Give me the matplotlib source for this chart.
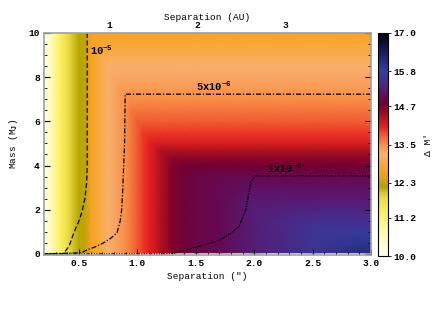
import matplotlib
matplotlib.use("Agg")
import matplotlib.pyplot as plt
import numpy as np
from matplotlib.colors import LinearSegmentedColormap, Normalize
from matplotlib.ticker import MultipleLocator

# detection limit (Delta M') along separation, arcsec
sep = [0.20, 0.25, 0.30, 0.35, 0.40, 0.45, 0.50, 0.55, 0.60, 0.65, 0.70,
       0.75, 0.80, 0.85, 0.90, 0.95, 1.00, 1.05, 1.10, 1.15, 1.20, 1.25,
       1.30, 1.40, 1.50, 1.70, 2.00, 2.50, 3.00]
limit = [10.05, 10.5, 11.0, 11.4, 11.75, 12.0, 12.15, 12.25, 12.65, 12.8, 13.0,
         13.15, 13.3, 13.4, 13.5, 13.65, 13.8, 13.95, 14.05, 14.2, 14.35, 14.5,
         14.65, 14.8, 14.9, 15.0, 15.25, 15.6, 16.1]

# planet contrast (Delta M') along mass, M_J
mass = [0.05, 0.1, 0.2, 0.5, 1.0, 1.5, 2.0, 2.5, 3.0, 3.5, 4.0, 4.4, 4.7,
        5.0, 5.5, 6.0, 6.5, 7.0, 7.5, 8.0, 8.5, 9.0, 9.5, 10.0]
planet = [17.0, 16.6, 16.3, 15.95, 15.7, 15.5, 15.35, 15.2, 15.1, 14.95, 14.75,
          14.55, 14.35, 14.15, 13.95, 13.8, 13.65, 13.5, 13.4, 13.3, 13.15,
          13.0, 12.85, 12.7]

# probability contours
c1_sep = [0.57, 0.57, 0.565, 0.55, 0.525, 0.50, 0.475, 0.445, 0.415, 0.38, 0.36, 0.2]
c1_mass = [10.0, 4.0, 3.2, 2.5, 1.9, 1.5, 1.2, 0.8, 0.35, 0.1, 0.0, 0.0]
c2_sep = [3.0, 0.895, 0.89, 0.875, 0.865, 0.853, 0.825, 0.77, 0.71, 0.63, 0.567, 0.524, 0.2]
c2_mass = [7.23, 7.23, 5.0, 3.0, 2.0, 1.5, 0.95, 0.7, 0.5, 0.3, 0.18, 0.05, 0.0]
c3_sep = [3.0, 2.013, 1.97, 1.95, 1.927, 1.87, 1.8, 1.71, 1.626, 1.54, 1.45, 1.368, 1.28, 0.2]
c3_mass = [3.54, 3.54, 3.27, 2.6, 2.0, 1.24, 0.94, 0.63, 0.48, 0.36, 0.22, 0.1, 0.0, 0.0]

cbar_ticks = [10.0, 11.2, 12.3, 13.5, 14.7, 15.8, 17.0]
au_per_arcsec = 1 / 0.755

cmap_points = [
    (10.0, "#fffff0"), (10.5, "#fffcc0"), (11.0, "#fff58a"), (11.4, "#f8ee58"),
    (11.8, "#eadc48"), (12.0, "#d4c428"), (12.15, "#b4a600"), (12.3, "#c8a208"),
    (12.6, "#f4a020"), (12.85, "#f8a836"), (13.2, "#f8b070"), (13.5, "#f89048"),
    (13.8, "#f05a30"), (14.05, "#e82020"), (14.4, "#a81020"), (14.75, "#740032"),
    (15.05, "#620c5a"), (15.4, "#4c2888"), (15.8, "#3040a0"), (16.35, "#1e1e64"),
    (17.0, "#000010"),
]
cmap = LinearSegmentedColormap.from_list(
    "dm", [((v - 10.0) / 7.0, c) for v, c in cmap_points])

plt.rcParams["font.family"] = "Liberation Mono"
plt.rcParams["font.weight"] = "bold"
plt.rcParams["mathtext.fontset"] = "custom"
plt.rcParams["mathtext.rm"] = "Liberation Mono:bold"
plt.rcParams["mathtext.it"] = "Liberation Mono:bold"
plt.rcParams["mathtext.bf"] = "Liberation Mono:bold"
plt.rcParams["mathtext.default"] = "rm"

fs = 6.8
fig = plt.figure(figsize=(4.36, 3.21), dpi=100)
ax = fig.add_axes([44 / 436, 1 - 255 / 321, 327 / 436, 222 / 321])
cax = fig.add_axes([377.5 / 436, 1 - 256 / 321, 10 / 436, 223 / 321])

S, M = np.meshgrid(sep, mass)
Z = np.minimum(np.array(limit)[None, :], np.array(planet)[:, None])
norm = Normalize(10, 17)
mesh = ax.pcolormesh(S, M, Z, cmap=cmap, norm=norm, shading="gouraud")

ax.plot(c1_sep, c1_mass, color="black", lw=0.9, dashes=(4, 2))
ax.plot(c2_sep, c2_mass, color="black", lw=0.9, dashes=(4, 1.5, 1, 1.5))
ax.plot(c3_sep, c3_mass, color="black", lw=0.9, dashes=(3, 1, 1, 1, 1, 1, 1, 1))

ax.text(0.59, 9.0, "10$^{-5}$", fontsize=7.5)
ax.text(1.50, 7.38, "5x10$^{-6}$", fontsize=7.5)
ax.text(2.11, 3.65, "1x10$^{-6}$", fontsize=7.5)

ax.set_xlim(0.2, 3.0)
ax.set_ylim(-0.05, 10.0)
ax.xaxis.set_major_locator(MultipleLocator(0.5))
ax.xaxis.set_minor_locator(MultipleLocator(0.1))
ax.yaxis.set_major_locator(MultipleLocator(2))
ax.yaxis.set_minor_locator(MultipleLocator(0.5))
ax.xaxis.set_major_formatter(plt.FormatStrFormatter("%.1f"))
ax.tick_params(which="both", direction="in", right=True, top=False,
               labelsize=fs, color="black", pad=3)
ax.tick_params(which="major", length=4, width=0.8)
ax.tick_params(which="minor", length=2, width=0.6)
for sp in ax.spines.values():
    sp.set_color("#a0a0a0")
    sp.set_linewidth(1.2)
ax.set_xlabel('Separation (")', fontsize=fs, labelpad=3)
ax.set_ylabel("Mass (M$_J$)", fontsize=fs, labelpad=6)

top = ax.secondary_xaxis("top", functions=(lambda s: s * au_per_arcsec,
                                           lambda a: a / au_per_arcsec))
top.xaxis.set_major_locator(MultipleLocator(1))
top.xaxis.set_minor_locator(MultipleLocator(0.1))
top.tick_params(which="both", direction="in", labelsize=fs, pad=2)
top.tick_params(which="major", length=4, width=0.8)
top.tick_params(which="minor", length=2, width=0.6)
top.spines["top"].set_color("#a0a0a0")
top.set_xlabel("Separation (AU)", fontsize=fs, labelpad=1)

cb = fig.colorbar(mesh, cax=cax, ticks=cbar_ticks)
cb.ax.set_yticklabels(["%.1f" % t for t in cbar_ticks])
cb.ax.tick_params(labelsize=fs, length=2, width=0.6, pad=2)
cb.outline.set_linewidth(0.8)
cb.set_label("\u0394 M'", fontsize=fs, rotation=90, labelpad=6)

fig.savefig("out.png", dpi=100)
